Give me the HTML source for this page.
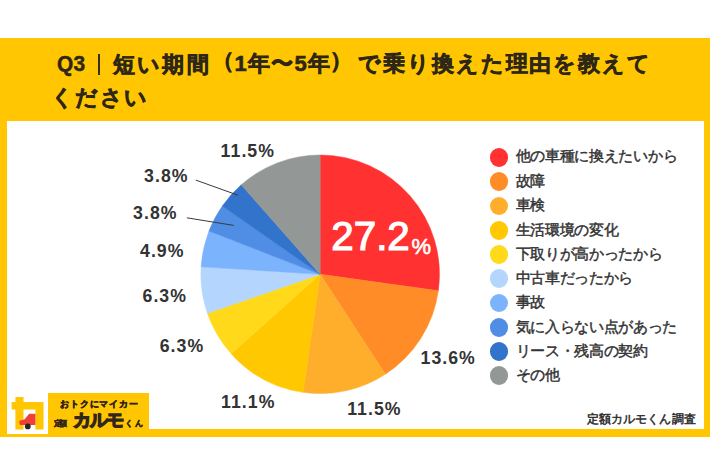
<!DOCTYPE html>
<html lang="ja"><head><meta charset="utf-8"><style>
*{margin:0;padding:0;box-sizing:border-box}
html,body{width:710px;height:474px;overflow:hidden;background:#fff;font-family:"Liberation Sans",sans-serif}
.a{position:absolute}
div{position:absolute;white-space:nowrap;line-height:1}
#band{left:0;top:38px;width:710px;height:399px;background:#FFC601}
#panel{left:7px;top:121px;width:696.5px;height:308px;background:#fff}
.tt{font-weight:bold;color:#2e2718;-webkit-text-stroke:0.6px #2e2718}
.pl{font-weight:bold;color:#333}
.dot{left:489.6px;width:18.6px;height:18.6px;border-radius:50%}
.lt{color:#333;-webkit-text-stroke:0.45px #333}
.big{color:#fff;font-weight:bold}
.pc{color:#fff}
.src{color:#2e2e2e;-webkit-text-stroke:0.5px #2e2e2e}
.lg{font-weight:bold;color:#33261a}
#bar{left:98px;top:54px;width:1.6px;height:20.7px;background:#35302a}
#logo{left:47.5px;top:393px;width:101.5px;height:44px;background:#FFC601}
#lw{left:7px;top:380px;width:40.5px;height:54px;background:#fff}

</style></head><body>
<div id="band"></div>
<div id="panel"></div>
<div id="bar"></div>
<svg class="a" style="position:absolute;left:0;top:0" width="710" height="474" viewBox="0 0 710 474">
<path d="M320.15 274.30L320.15 155.00A119.3 119.3 0 0 1 438.31 290.74Z" fill="#FF3131" stroke="#FF3131" stroke-width="0.5" stroke-linejoin="round"/>
<path d="M320.15 274.30L438.31 290.74A119.3 119.3 0 0 1 385.33 374.22Z" fill="#FF8C26" stroke="#FF8C26" stroke-width="0.5" stroke-linejoin="round"/>
<path d="M320.15 274.30L385.33 374.22A119.3 119.3 0 0 1 302.97 392.36Z" fill="#FFAE2B" stroke="#FFAE2B" stroke-width="0.5" stroke-linejoin="round"/>
<path d="M320.15 274.30L302.97 392.36A119.3 119.3 0 0 1 231.16 353.76Z" fill="#FFC800" stroke="#FFC800" stroke-width="0.5" stroke-linejoin="round"/>
<path d="M320.15 274.30L231.16 353.76A119.3 119.3 0 0 1 207.40 313.30Z" fill="#FFD91A" stroke="#FFD91A" stroke-width="0.5" stroke-linejoin="round"/>
<path d="M320.15 274.30L207.40 313.30A119.3 119.3 0 0 1 201.09 266.81Z" fill="#B4D6FE" stroke="#B4D6FE" stroke-width="0.5" stroke-linejoin="round"/>
<path d="M320.15 274.30L201.09 266.81A119.3 119.3 0 0 1 208.95 231.08Z" fill="#7CB3FD" stroke="#7CB3FD" stroke-width="0.5" stroke-linejoin="round"/>
<path d="M320.15 274.30L208.95 231.08A119.3 119.3 0 0 1 222.33 206.01Z" fill="#508EE5" stroke="#508EE5" stroke-width="0.5" stroke-linejoin="round"/>
<path d="M320.15 274.30L222.33 206.01A119.3 119.3 0 0 1 241.26 184.81Z" fill="#3273CB" stroke="#3273CB" stroke-width="0.5" stroke-linejoin="round"/>
<path d="M320.15 274.30L241.26 184.81A119.3 119.3 0 0 1 320.15 155.00Z" fill="#939795" stroke="#939795" stroke-width="0.5" stroke-linejoin="round"/>
<line x1="195.8" y1="180.1" x2="238.2" y2="195.3" stroke="#3a3a3a" stroke-width="1"/>
<line x1="186.9" y1="217.8" x2="233.7" y2="225.4" stroke="#3a3a3a" stroke-width="1"/>
</svg>
<div id="m_q3" class="tt" style="left:57.00px;top:53.00px;font-size:22.6px;letter-spacing:0.300px;transform:scaleX(0.925);transform-origin:0 0;-webkit-text-stroke:0.5px #2e2718;">Q3</div>
<div id="m_t1" class="tt" style="left:112.60px;top:53.50px;font-size:22px;letter-spacing:2.433px;">短い期間</div>
<div id="m_t2a" class="tt" style="left:212.40px;top:49.90px;font-size:22px;letter-spacing:2.000px;">（</div>
<div id="m_t2b" class="tt" style="left:234.40px;top:52.70px;font-size:22px;letter-spacing:1.275px;">1年〜5年</div>
<div id="m_t2c" class="tt" style="left:329.90px;top:49.90px;font-size:22px;letter-spacing:2.000px;">）</div>
<div id="m_t3" class="tt" style="left:358.00px;top:52.90px;font-size:22px;letter-spacing:1.927px;">で乗り換えた理由を教えて</div>
<div id="m_t4" class="tt" style="left:51.20px;top:86.80px;font-size:22px;letter-spacing:1.234px;">ください</div>
<div id="m_p1" class="pl" style="left:220.60px;top:142.70px;font-size:17.7px;letter-spacing:1.050px;">11.5%</div>
<div id="m_p2" class="pl" style="left:144.10px;top:167.60px;font-size:17.7px;letter-spacing:1.050px;">3.8%</div>
<div id="m_p3" class="pl" style="left:133.10px;top:204.70px;font-size:17.7px;letter-spacing:1.050px;">3.8%</div>
<div id="m_p4" class="pl" style="left:140.00px;top:242.80px;font-size:17.7px;letter-spacing:1.050px;">4.9%</div>
<div id="m_p5" class="pl" style="left:142.50px;top:287.80px;font-size:17.7px;letter-spacing:1.050px;">6.3%</div>
<div id="m_p6" class="pl" style="left:159.70px;top:338.00px;font-size:17.7px;letter-spacing:1.050px;">6.3%</div>
<div id="m_p7" class="pl" style="left:221.00px;top:393.60px;font-size:17.7px;letter-spacing:1.050px;">11.1%</div>
<div id="m_p8" class="pl" style="left:347.20px;top:401.20px;font-size:17.7px;letter-spacing:1.050px;">11.5%</div>
<div id="m_p9" class="pl" style="left:420.50px;top:349.70px;font-size:17.7px;letter-spacing:1.050px;">13.6%</div>
<div id="m_big" class="big" style="left:331.25px;top:216.85px;font-size:40.3px;letter-spacing:0.033px;font-weight:normal;-webkit-text-stroke:1.2px #fff;">27.2</div>
<div id="m_pc" class="pc" style="left:411.45px;top:235.55px;font-size:22px;letter-spacing:0.000px;-webkit-text-stroke:0.6px #fff;">%</div>
<div id="m_src" class="src" style="left:587.00px;top:414.20px;font-size:11.8px;letter-spacing:0.075px;">定額カルモくん調査</div>
<div id="m_l0" class="lt" style="left:515.50px;top:149.40px;font-size:14.6px;letter-spacing:-0.290px;">他の車種に換えたいから</div>
<div id="m_l1" class="lt" style="left:515.50px;top:174.05px;font-size:14.6px;letter-spacing:-0.330px;">故障</div>
<div id="m_l2" class="lt" style="left:515.50px;top:198.30px;font-size:14.6px;letter-spacing:-0.330px;">車検</div>
<div id="m_l3" class="lt" style="left:515.50px;top:222.55px;font-size:14.6px;letter-spacing:-0.330px;">生活環境の変化</div>
<div id="m_l4" class="lt" style="left:515.50px;top:246.80px;font-size:14.6px;letter-spacing:-0.330px;">下取りが高かったから</div>
<div id="m_l5" class="lt" style="left:515.50px;top:271.05px;font-size:14.6px;letter-spacing:-0.330px;">中古車だったから</div>
<div id="m_l6" class="lt" style="left:515.50px;top:295.30px;font-size:14.6px;letter-spacing:-0.330px;">事故</div>
<div id="m_l7" class="lt" style="left:515.50px;top:319.55px;font-size:14.6px;letter-spacing:-0.330px;">気に入らない点があった</div>
<div id="m_l8" class="lt" style="left:515.50px;top:343.80px;font-size:14.6px;letter-spacing:-0.330px;">リース・残高の契約</div>
<div id="m_l9" class="lt" style="left:515.50px;top:368.05px;font-size:14.6px;letter-spacing:-0.330px;">その他</div>
<div class="dot" style="top:148.20px;background:#FF3131"></div>
<div class="dot" style="top:172.45px;background:#FF8C26"></div>
<div class="dot" style="top:196.70px;background:#FFAE2B"></div>
<div class="dot" style="top:220.95px;background:#FFC800"></div>
<div class="dot" style="top:245.20px;background:#FFD91A"></div>
<div class="dot" style="top:269.45px;background:#B4D6FE"></div>
<div class="dot" style="top:293.70px;background:#7CB3FD"></div>
<div class="dot" style="top:317.95px;background:#508EE5"></div>
<div class="dot" style="top:342.20px;background:#3273CB"></div>
<div class="dot" style="top:366.45px;background:#939795"></div>
<div id="lw"></div>
<svg class="a" style="position:absolute;left:0;top:0" width="60" height="474" viewBox="0 0 60 474">
<path d="M15.4 397.1H23.5V401.9H43.5V429.4H35.4V409.5H23.5V429.4H15.4V409.5H11.6V401.9H15.4Z" fill="#FFC601"/>
<path d="M19.3 421.6Q19.4 420.4 20.8 420.2L24.4 419.6L29.2 413.7H35.4V424.9H20.1Q19.2 423.6 19.3 421.6Z" fill="#EE4036"/>
<circle cx="27.8" cy="426.4" r="2.9" fill="#262626"/>
</svg>
<div id="logo"></div>
<div id="m_g1" class="lg" style="left:60.35px;top:400.20px;font-size:9px;letter-spacing:0.742px;-webkit-text-stroke:0.5px #33261a;">おトクにマイカー</div>
<div id="m_g2" class="lg" style="left:53.60px;top:420.20px;font-size:8.2px;letter-spacing:-2.600px;-webkit-text-stroke:0.4px #33261a;">定額</div>
<div id="m_g3" class="lg" style="left:73.40px;top:412.00px;font-size:17.6px;letter-spacing:-1.450px;-webkit-text-stroke:1.3px #33261a;">カルモ</div>
<div id="m_g4" class="lg" style="left:125.20px;top:419.75px;font-size:8px;letter-spacing:2.200px;-webkit-text-stroke:0.5px #33261a;">くん</div>
</body></html>
